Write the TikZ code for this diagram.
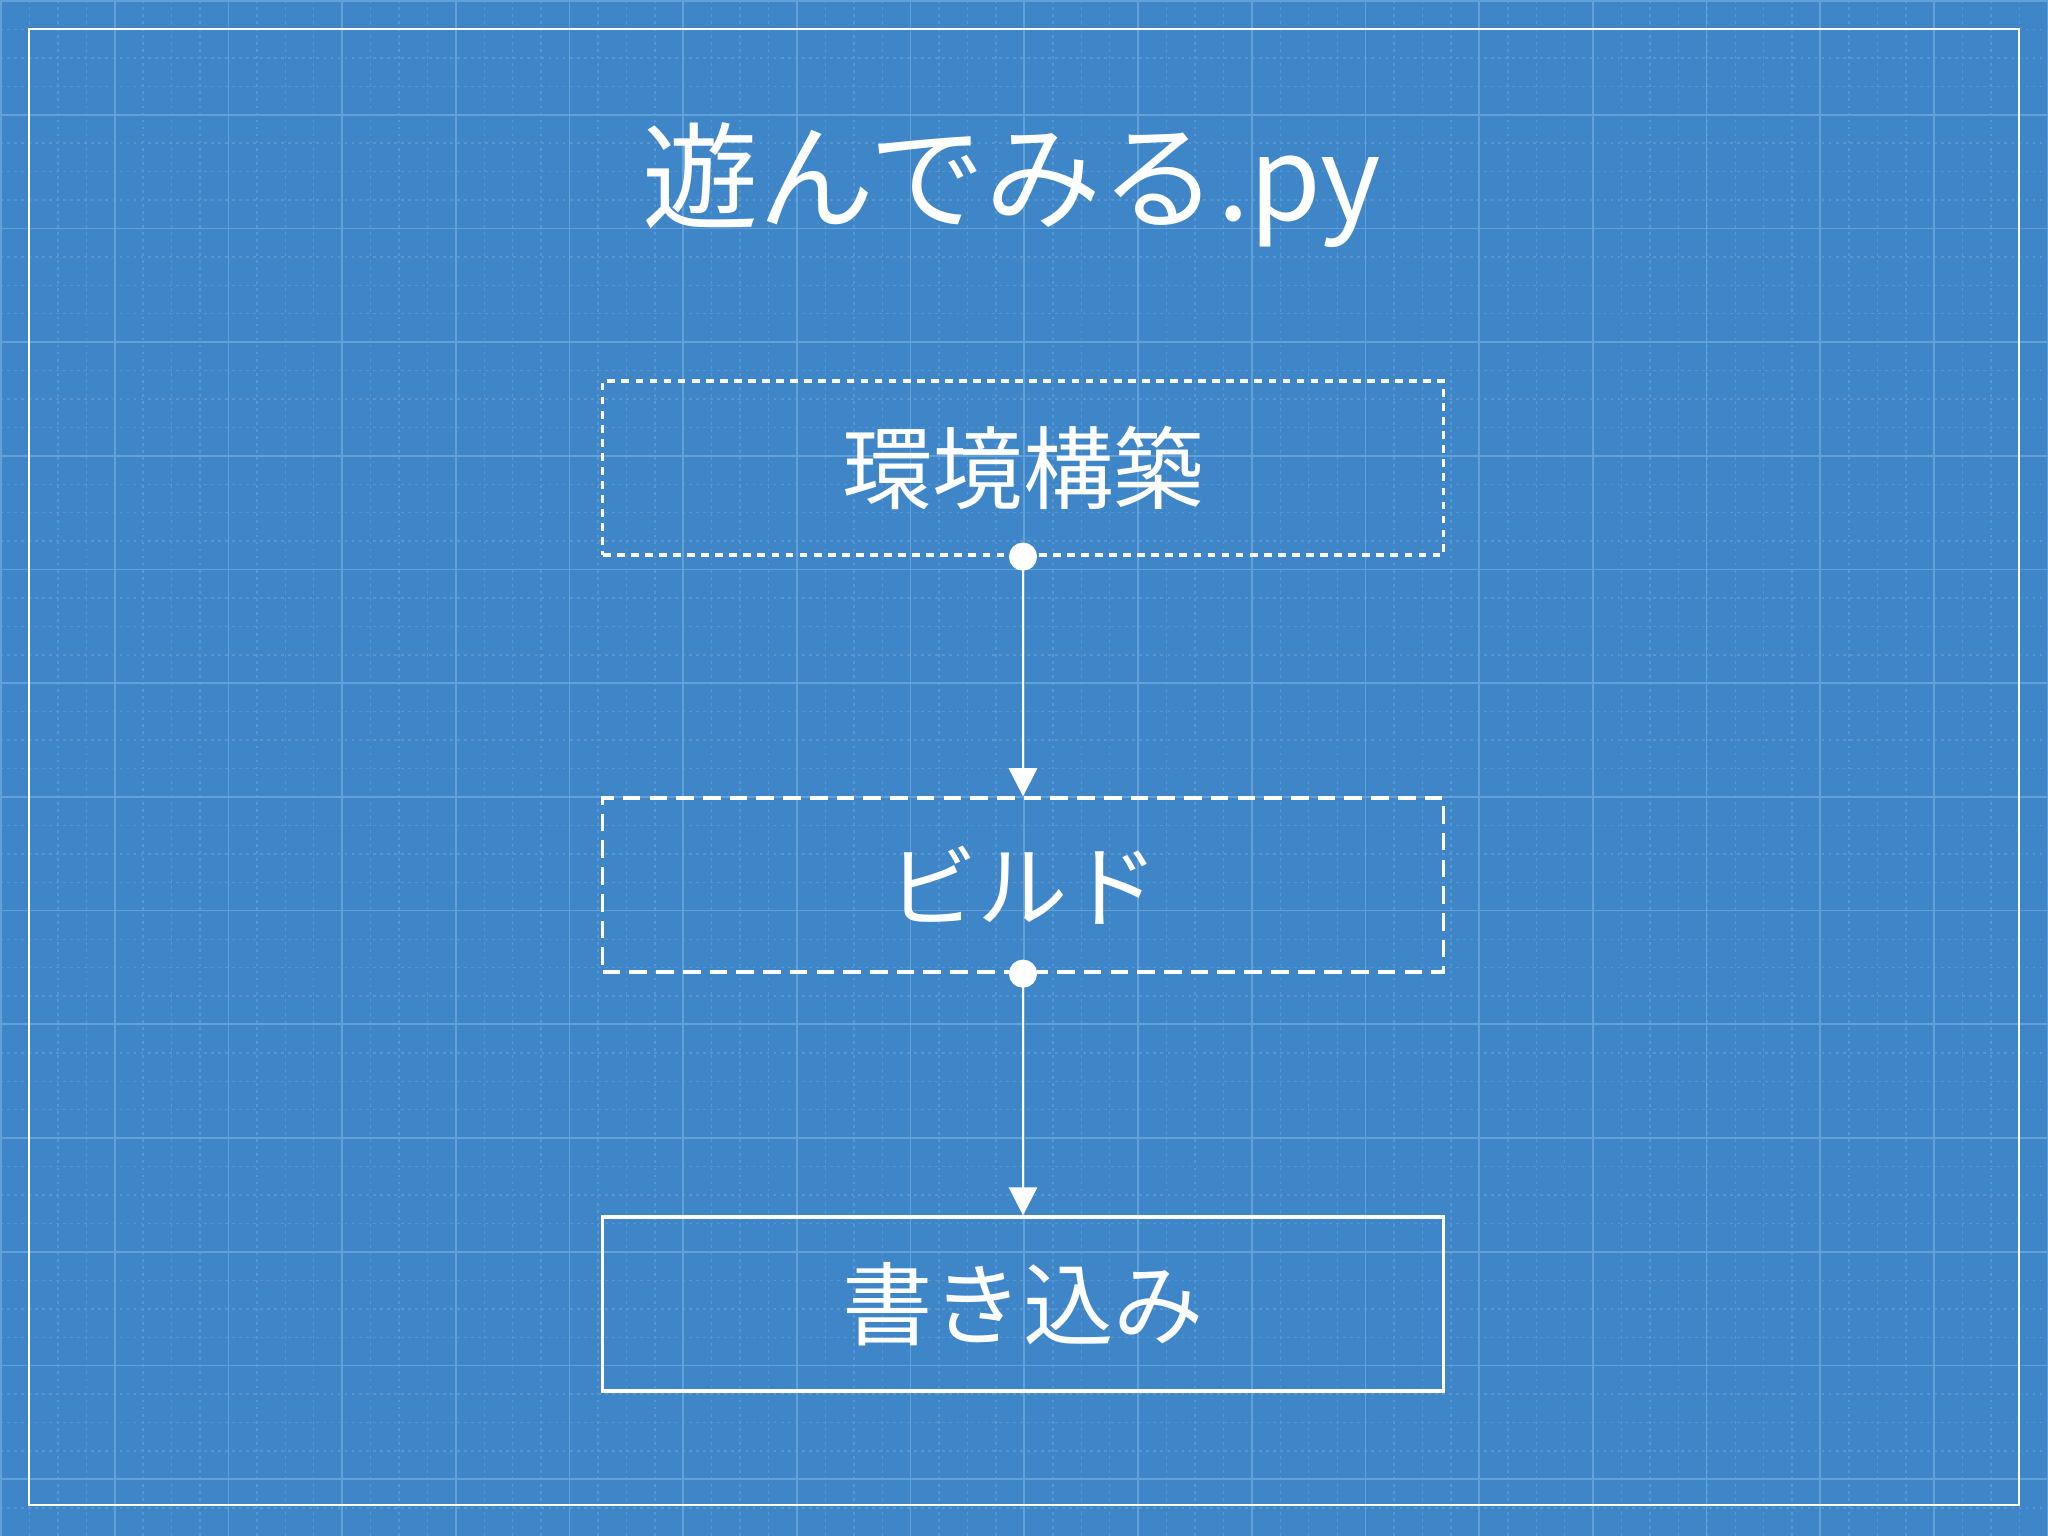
\documentclass[tikz,border=0pt]{standalone}
\usepackage{fontspec}
\setmainfont{Noto Sans CJK JP}
\usetikzlibrary{arrows.meta}
\definecolor{bp}{HTML}{3E86C8}
\definecolor{gmaj}{HTML}{62A0D8}
\definecolor{gmin}{HTML}{5896D2}
\tikzset{
  box/.style={draw=white,line width=0.9pt,minimum width=8.4cm,minimum height=1.74cm,inner sep=0pt,text=white,font=\fontsize{25.7}{30}\selectfont},
  dotdash/.style={dash pattern=on 2.2pt off 1.8pt},
  longdash/.style={dash pattern=on 5pt off 2.6pt},
  conn/.style={draw=white,line width=0.8pt,{Circle[length=8pt]}-{Triangle[length=8pt,width=8pt]},shorten <=-4pt}
}
\begin{document}
\begin{tikzpicture}[x=0.01cm,y=-0.01cm]
\fill[bp] (0,0) rectangle (2048,1536);
\useasboundingbox (0,0) rectangle (2048,1536);
\foreach \i in {0,...,72} {
  \draw[gmin,line width=0.4pt,dash pattern=on 0.8pt off 1.2pt] (1+\i*28.43,0) -- (1+\i*28.43,1536);
  \draw[gmin,line width=0.4pt,dash pattern=on 0.8pt off 1.2pt] (0,1+\i*28.43) -- (2048,1+\i*28.43);
}
\foreach \i in {0,...,18} {
  \draw[gmaj,line width=0.5pt] (1+\i*113.7,0) -- (1+\i*113.7,1536);
  \draw[gmaj,line width=0.5pt] (0,1+\i*113.7) -- (2048,1+\i*113.7);
}
\draw[white,line width=0.8pt] (29,29) rectangle (2019,1505);
\node[text=white,font=\fontsize{33}{38}\selectfont] (title) at (1012,185) {遊んでみる.py};
\node[box,dotdash] (b1) at (1023,468) {環境構築};
\node[box,longdash] (b2) at (1023,885) {ビルド};
\node[box] (b3) at (1023,1304) {書き込み};
\draw[conn] (b1.south) -- (b2.north);
\draw[conn] (b2.south) -- (b3.north);
\end{tikzpicture}
\end{document}
